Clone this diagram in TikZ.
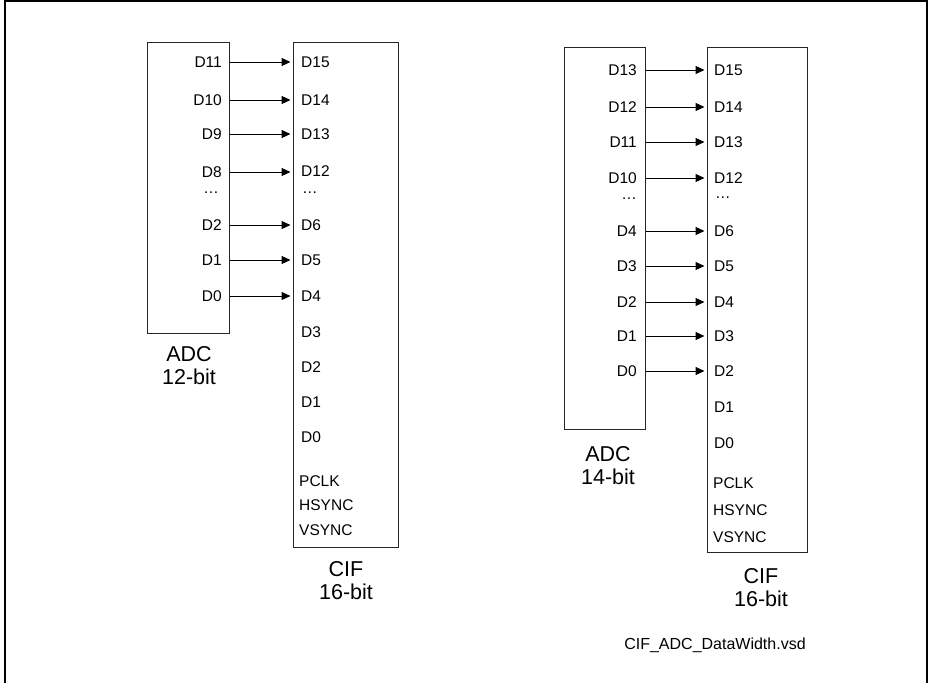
\documentclass[tikz,border=0pt]{standalone}
\usepackage{fontspec}
\setmainfont{Liberation Sans}
\usetikzlibrary{arrows.meta}

\begin{document}
\begin{tikzpicture}[
  x=1pt,y=-1pt,
  pin/.style={font=\fontsize{15.5}{18}\selectfont,inner sep=0pt},
  title/.style={font=\fontsize{21.5}{23}\selectfont,align=center,inner sep=0pt},
  chip/.style={draw=black!85,line width=1.2pt,anchor=north west,inner sep=0pt},
  sig/.style={-{Triangle[length=9pt,width=8pt]},line width=1pt,shorten >=2.5pt}
]
\useasboundingbox (0,0) rectangle (929,683);
\draw[line width=2pt] (5,683) -- (5,1) -- (927,1) -- (927,683);

% 12-bit ADC into 16-bit CIF
\node[chip,minimum width=82pt,minimum height=291pt]  (adcA) at (147,42) {};
\node[chip,minimum width=105pt,minimum height=505pt] (cifA) at (293,42) {};
\foreach \t/\y [count=\i] in {D11/62,D10/100,D9/134,D8/172,D2/225,D1/260,D0/296}
  \node[pin,anchor=east] (pa\i) at (222,\y) {\t};
\foreach \t/\y [count=\i] in {D15/62,D14/100,D13/134,D12/171,D6/225,D5/260,D4/296,D3/332,D2/367,D1/402,D0/437}
  \node[pin,anchor=west] (qa\i) at (301,\y) {\t};
\foreach \t/\y [count=\i] in {PCLK/481,HSYNC/505,VSYNC/530}
  \node[pin,anchor=west] (ca\i) at (299,\y) {\t};
\node[pin,anchor=east] (da) at (219,193) {…};
\node[pin,anchor=west] (ea) at (302,193) {…};
\foreach \i in {1,...,7} \draw[sig] (adcA.east |- pa\i) -- (cifA.west |- pa\i);
\node[title] (ta) at (189,366) {ADC\\12-bit};
\node[title] (ua) at (346,581) {CIF\\16-bit};

% 14-bit ADC into 16-bit CIF
\node[chip,minimum width=81pt,minimum height=382pt]  (adcB) at (564,47) {};
\node[chip,minimum width=100pt,minimum height=505pt] (cifB) at (707,47) {};
\foreach \t/\y [count=\i] in {D13/70,D12/107,D11/142,D10/178,D4/231,D3/266,D2/302,D1/336,D0/371}
  \node[pin,anchor=east] (pb\i) at (637,\y) {\t};
\foreach \t/\y [count=\i] in {D15/70,D14/107,D13/142,D12/178,D6/231,D5/266,D4/302,D3/336,D2/371,D1/407,D0/443}
  \node[pin,anchor=west] (qb\i) at (714,\y) {\t};
\foreach \t/\y [count=\i] in {PCLK/483,HSYNC/510,VSYNC/537}
  \node[pin,anchor=west] (cb\i) at (713,\y) {\t};
\node[pin,anchor=east] (db) at (637,199) {…};
\node[pin,anchor=west] (eb) at (715,198) {…};
\foreach \i in {1,...,9} \draw[sig] (adcB.east |- pb\i) -- (cifB.west |- pb\i);
\node[title] (tb) at (608,466) {ADC\\14-bit};
\node[title] (ub) at (761,588) {CIF\\16-bit};

\node[pin,font=\fontsize{16}{18}\selectfont] (fname) at (715,645) {CIF\_ADC\_DataWidth.vsd};
\end{tikzpicture}
\end{document}
